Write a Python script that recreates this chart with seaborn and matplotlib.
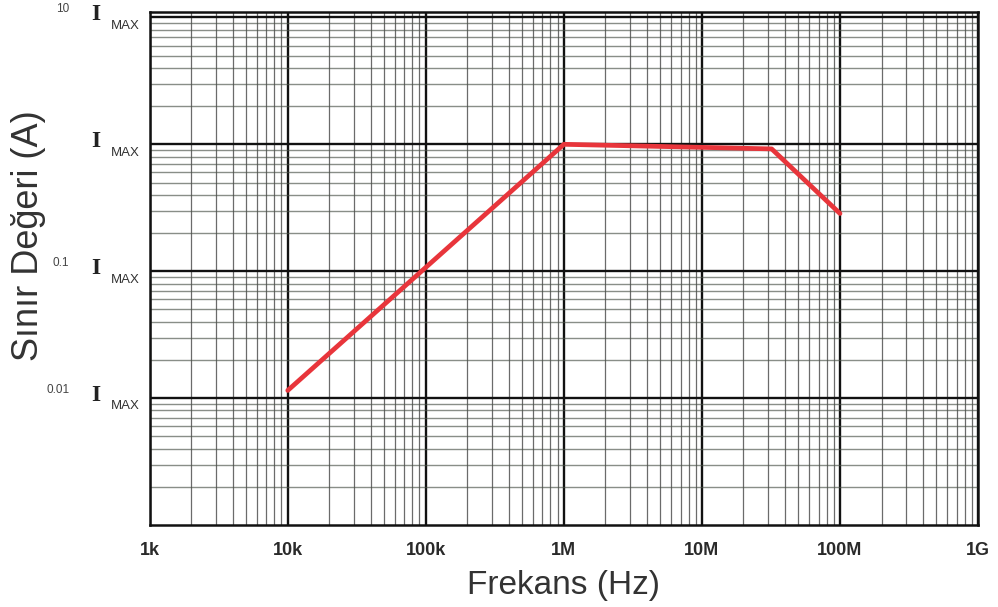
import numpy as np
import pandas as pd
import matplotlib
matplotlib.use("Agg")
import matplotlib.pyplot as plt
import seaborn as sns
from matplotlib.ticker import LogLocator, NullFormatter

# Data
freq_hz = [1e4, 1e6, 3.2e7, 1e8]
limit_rel = [0.0115, 1.0, 0.92, 0.285]
x_tick_vals = [1e3, 1e4, 1e5, 1e6, 1e7, 1e8, 1e9]
x_tick_labels = ["1k", "10k", "100k", "1M", "10M", "100M", "1G"]
y_tick_vals = [0.01, 0.1, 1.0, 10.0]
y_tick_prefix = ["0.01", "0.1", "", "10"]

sns.set_style("white")
plt.rcParams["font.family"] = ["Liberation Sans", "DejaVu Sans"]

fig = plt.figure(figsize=(9.98, 6.07), dpi=100)
ax = fig.add_axes([0.150, 0.135, 0.830, 0.845])

df = pd.DataFrame({"f": freq_hz, "v": limit_rel})
sns.lineplot(data=df, x="f", y="v", ax=ax, color="#e8353b", linewidth=3.4,
             sort=False, zorder=5)

ax.set_xscale("log")
ax.set_yscale("log")
ax.set_xlim(1e3, 1e9)
ax.set_ylim(1e-3, 11)

ax.xaxis.set_minor_locator(LogLocator(base=10, subs=np.arange(2, 10)))
ax.yaxis.set_minor_locator(LogLocator(base=10, subs=np.arange(2, 10)))
ax.xaxis.set_minor_formatter(NullFormatter())
ax.yaxis.set_minor_formatter(NullFormatter())

ax.grid(True, which="major", color="#111111", linewidth=1.7)
ax.grid(True, which="minor", axis="x", color="#3a3a3a", linewidth=0.9, alpha=0.75)
ax.grid(True, which="minor", axis="y", color="#4a5248", linewidth=1.0, alpha=0.65)

ax.set_xticks(x_tick_vals)
ax.set_xticklabels(x_tick_labels, fontsize=13, fontweight="bold", color="#2a2a2a")
ax.tick_params(axis="x", which="both", length=0, pad=12)
ax.set_yticks(y_tick_vals)
ax.set_yticklabels([""] * len(y_tick_vals))
ax.tick_params(axis="y", which="both", length=0)

for v, p in zip(y_tick_vals, y_tick_prefix):
    ax.annotate("I", xy=(0, v), xycoords=("axes fraction", "data"),
                xytext=(-39, 2), textcoords="offset points",
                ha="center", va="center", fontsize=17, fontweight="bold",
                family="Liberation Serif", color="#222222")
    ax.annotate("MAX", xy=(0, v), xycoords=("axes fraction", "data"),
                xytext=(-7, -6), textcoords="offset points",
                ha="right", va="center", fontsize=9.5, color="#333333")
    if p:
        ax.annotate(p, xy=(0, v), xycoords=("axes fraction", "data"),
                    xytext=(-58, 6), textcoords="offset points",
                    ha="right", va="center", fontsize=8.5, color="#444444")

for s in ax.spines.values():
    s.set_color("#111111")
    s.set_linewidth(1.8)

ax.set_xlabel("Frekans (Hz)", fontsize=24, color="#333333", labelpad=8)
ax.set_ylabel("Sınır Değeri (A)", fontsize=26, color="#333333", va="center")
ax.yaxis.set_label_coords(-0.146, 0.565)

fig.savefig("out.png", dpi=100)
